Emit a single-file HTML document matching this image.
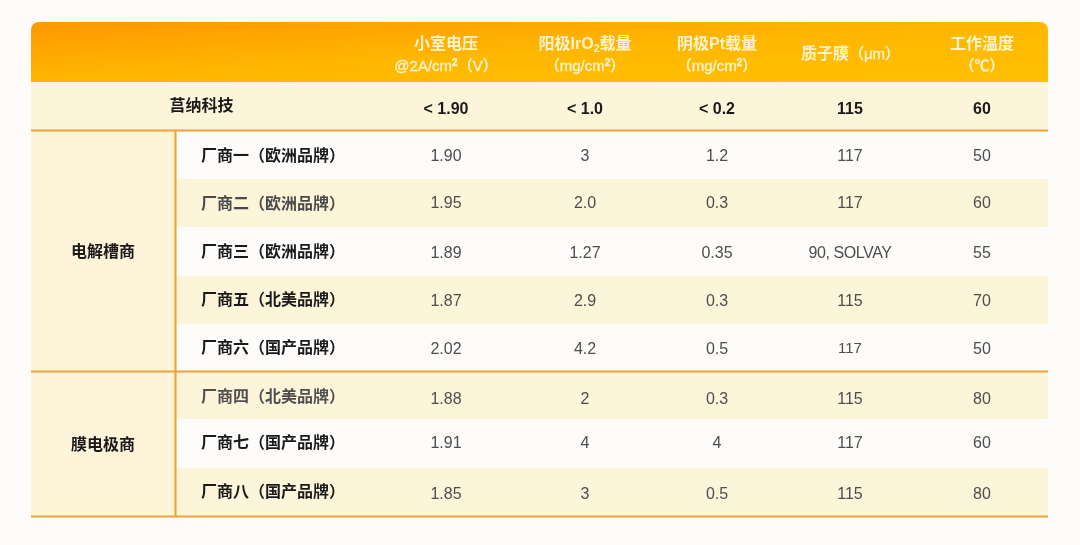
<!DOCTYPE html>
<html lang="zh-CN">
<head>
<meta charset="utf-8">
<title>PEM 电解槽性能对比</title>
<style>
html,body{margin:0;padding:0;}
body{width:1080px;height:545px;background:#fdfcfa;position:relative;overflow:hidden;
 font-family:"Liberation Sans","Noto Sans CJK SC",sans-serif;}
.abs{position:absolute;}
#hdr{left:31px;top:22px;width:1017px;height:60px;border-radius:8px 8px 0 0;
 background:linear-gradient(to bottom right,#ff9800 0%,#ffb700 50%,#ffc003 100%);}
.bg{position:absolute;}
.cream{background:#fdf5d9;}
.white{background:#fdfcfa;}
.hl{position:absolute;left:31px;width:1017px;height:3px;background:linear-gradient(to bottom,rgba(238,166,60,0) 0%,rgba(236,166,62,1) 30%,rgba(236,166,62,1) 70%,rgba(238,166,60,0) 100%);}
.vl{position:absolute;left:174.05px;width:3px;top:130.5px;height:386px;background:linear-gradient(to right,rgba(240,164,50,0) 0%,rgba(238,164,52,1) 30%,rgba(238,164,52,1) 70%,rgba(240,164,50,0) 100%);}
.h{position:absolute;color:#fff3cf;font-weight:700;font-size:16px;line-height:22px;text-align:center;width:160px;white-space:nowrap;}
.h .s{font-size:15px;font-weight:500;-webkit-text-stroke:0.35px #fff3cf;}
.c{position:absolute;width:140px;text-align:center;font-size:16px;line-height:24px;color:#4d4d4d;white-space:nowrap;}
.b{font-weight:700;color:#1a1a1a;}
.l{position:absolute;left:201px;font-size:16px;line-height:24px;font-weight:700;color:#1a1a1a;white-space:nowrap;}
.g{position:absolute;left:31.5px;width:143px;text-align:center;font-size:16px;line-height:24px;font-weight:700;color:#1a1a1a;white-space:nowrap;}
sup,sub{font-size:10px;line-height:0;font-weight:700;}
sub{font-size:10.5px;vertical-align:-3px;}
sup{vertical-align:5px;}
</style>
</head>
<body>
<div id="hdr" class="abs"></div>

<!-- row backgrounds -->
<div class="bg" style="background:#fdf5d9;left:31px;top:81.5px;width:1017px;height:49px"></div>
<div class="bg" style="background:#fdf4da;left:31px;top:130.4px;width:144.5px;height:386px"></div>
<div class="bg white" style="left:175.5px;top:130.4px;width:872.5px;height:48.9px"></div>
<div class="bg cream" style="left:175.5px;top:179.3px;width:872.5px;height:48.1px"></div>
<div class="bg white" style="left:175.5px;top:227.4px;width:872.5px;height:48.1px"></div>
<div class="bg cream" style="left:175.5px;top:275.5px;width:872.5px;height:48.1px"></div>
<div class="bg white" style="left:175.5px;top:323.6px;width:872.5px;height:47.7px"></div>
<div class="bg cream" style="left:175.5px;top:371.3px;width:872.5px;height:48.2px"></div>
<div class="bg white" style="left:175.5px;top:419.5px;width:872.5px;height:48.1px"></div>
<div class="bg cream" style="left:175.5px;top:467.6px;width:872.5px;height:48.8px"></div>

<!-- rules -->
<div class="hl" style="top:128.95px"></div>
<div class="hl" style="top:369.8px"></div>
<div class="hl" style="top:514.9px"></div>
<div class="vl"></div>

<!-- header text -->
<div class="h" style="left:366px;top:33px">小室电压<br><span class="s">@2A/cm<sup>2</sup>（V）</span></div>
<div class="h" style="left:505px;top:33px">阳极IrO<sub>2</sub>载量<br><span class="s">（mg/cm<sup>2</sup>）</span></div>
<div class="h" style="left:637px;top:33px">阴极Pt载量<br><span class="s">（mg/cm<sup>2</sup>）</span></div>
<div class="h" style="left:770.5px;top:42.5px">质子膜<span class="s">（μm）</span></div>
<div class="h" style="left:902px;top:33px">工作温度<br><span class="s">（℃）</span></div>

<!-- row 0 -->
<div class="g b" style="left:130px;top:94px">莒纳科技</div>
<div class="c b" style="left:376px;top:97.2px">&lt; 1.90</div>
<div class="c b" style="left:515px;top:97.2px">&lt; 1.0</div>
<div class="c b" style="left:647px;top:97.2px">&lt; 0.2</div>
<div class="c b" style="left:780px;top:97.2px">115</div>
<div class="c b" style="left:912px;top:97.2px">60</div>

<!-- groups -->
<div class="g" style="top:240px">电解槽商</div>
<div class="g" style="top:433px">膜电极商</div>

<!-- row 1 -->
<div class="l" style="top:143.5px">厂商一（欧洲品牌）</div>
<div class="c" style="left:376px;top:143.5px">1.90</div>
<div class="c" style="left:515px;top:143.5px">3</div>
<div class="c" style="left:647px;top:143.5px">1.2</div>
<div class="c" style="left:780px;top:143.5px">117</div>
<div class="c" style="left:912px;top:143.5px">50</div>
<!-- row 2 -->
<div class="l" style="top:191.5px;color:#4a4a4a">厂商二（欧洲品牌）</div>
<div class="c" style="left:376px;top:191px">1.95</div>
<div class="c" style="left:515px;top:191px">2.0</div>
<div class="c" style="left:647px;top:191px">0.3</div>
<div class="c" style="left:780px;top:191px">117</div>
<div class="c" style="left:912px;top:191px">60</div>
<!-- row 3 -->
<div class="l" style="top:239.5px">厂商三（欧洲品牌）</div>
<div class="c" style="left:376px;top:241px">1.89</div>
<div class="c" style="left:515px;top:241px">1.27</div>
<div class="c" style="left:647px;top:241px">0.35</div>
<div class="c" style="left:780px;top:241px;letter-spacing:-0.4px">90, SOLVAY</div>
<div class="c" style="left:912px;top:241px">55</div>
<!-- row 4 -->
<div class="l" style="top:287.5px">厂商五（北美品牌）</div>
<div class="c" style="left:376px;top:289px">1.87</div>
<div class="c" style="left:515px;top:289px">2.9</div>
<div class="c" style="left:647px;top:289px">0.3</div>
<div class="c" style="left:780px;top:289px">115</div>
<div class="c" style="left:912px;top:289px">70</div>
<!-- row 5 -->
<div class="l" style="top:335.5px">厂商六（国产品牌）</div>
<div class="c" style="left:376px;top:336.5px">2.02</div>
<div class="c" style="left:515px;top:336.5px">4.2</div>
<div class="c" style="left:647px;top:336.5px">0.5</div>
<div class="c" style="left:780px;top:336px;font-size:15px">117</div>
<div class="c" style="left:912px;top:336.5px">50</div>
<!-- row 6 -->
<div class="l" style="top:384.5px;color:#4f4f4f">厂商四（北美品牌）</div>
<div class="c" style="left:376px;top:386.5px">1.88</div>
<div class="c" style="left:515px;top:386.5px">2</div>
<div class="c" style="left:647px;top:386.5px">0.3</div>
<div class="c" style="left:780px;top:386.5px">115</div>
<div class="c" style="left:912px;top:386.5px">80</div>
<!-- row 7 -->
<div class="l" style="top:430.5px">厂商七（国产品牌）</div>
<div class="c" style="left:376px;top:431px">1.91</div>
<div class="c" style="left:515px;top:431px">4</div>
<div class="c" style="left:647px;top:431px">4</div>
<div class="c" style="left:780px;top:431px">117</div>
<div class="c" style="left:912px;top:431px">60</div>
<!-- row 8 -->
<div class="l" style="top:479.5px">厂商八（国产品牌）</div>
<div class="c" style="left:376px;top:481.5px">1.85</div>
<div class="c" style="left:515px;top:481.5px">3</div>
<div class="c" style="left:647px;top:481.5px">0.5</div>
<div class="c" style="left:780px;top:481.5px">115</div>
<div class="c" style="left:912px;top:481.5px">80</div>
</body>
</html>
